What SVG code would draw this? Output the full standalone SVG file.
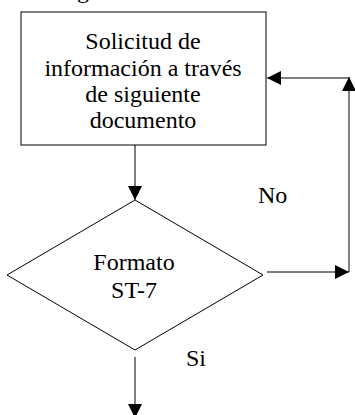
<svg xmlns="http://www.w3.org/2000/svg" width="355" height="415" viewBox="0 0 355 415">
<style>
text{font-family:"Liberation Serif","Times New Roman",serif;font-size:24px;fill:#000}
.shape{fill:#fff;stroke:#000;stroke-width:1}
.conn{stroke:#000;stroke-width:1;fill:none}
</style>
<defs>
<marker id="ah" markerUnits="userSpaceOnUse" markerWidth="16" markerHeight="16" viewBox="0 0 16 16" refX="15" refY="8" orient="auto">
<path d="M1,1 L15,8 L1,15 Z" fill="#000"/>
</marker>
</defs>
<rect width="355" height="415" fill="#fff"/>
<text x="77" y="-2">g</text>
<g id="box">
<rect class="shape" x="21" y="12" width="245" height="133"/>
<text x="143" y="49" text-anchor="middle">Solicitud de</text>
<text x="143" y="76" text-anchor="middle">información a través</text>
<text x="143" y="102" text-anchor="middle">de siguiente</text>
<text x="143" y="128" text-anchor="middle">documento</text>
</g>
<g id="decision">
<polygon class="shape" points="135,200 263,275 135,350 7,275"/>
<text x="134" y="270" text-anchor="middle">Formato</text>
<text x="134" y="298" text-anchor="middle">ST-7</text>
</g>
<g id="connectors">
<line class="conn" x1="135" y1="145" x2="135" y2="200" marker-end="url(#ah)"/>
<line class="conn" x1="267" y1="272" x2="349" y2="272" marker-end="url(#ah)"/>
<line class="conn" x1="349" y1="272" x2="349" y2="77" marker-end="url(#ah)"/>
<line class="conn" x1="349" y1="78" x2="267" y2="78" marker-end="url(#ah)"/>
<line class="conn" x1="135" y1="357" x2="135" y2="418" marker-end="url(#ah)"/>
<text x="258" y="203">No</text>
<text x="186" y="366">Si</text>
</g>
</svg>
